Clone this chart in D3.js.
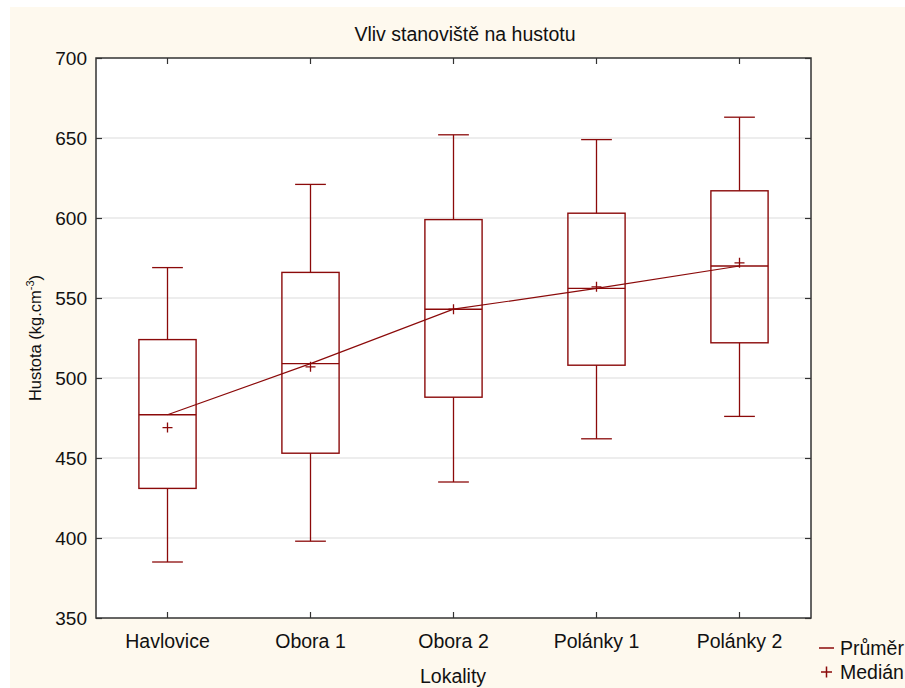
<!DOCTYPE html>
<html><head><meta charset="utf-8">
<script src="https://cdn.jsdelivr.net/npm/d3@7"></script>
<style>
body{margin:0;background:#fff;}
svg{display:block;}
</style></head>
<body>
<svg id="chart" width="905" height="688"></svg>
<script>
const categories = ["Havlovice", "Obora 1", "Obora 2", "Polánky 1", "Polánky 2"];
const whiskerLow  = [385, 398, 435, 462, 476];
const boxLow      = [431, 453, 488, 508, 522];
const meanValues  = [477, 509, 543, 556, 570];
const boxHigh     = [524, 566, 599, 603, 617];
const whiskerHigh = [569, 621, 652, 649, 663];
const medianValues= [469, 507, 543, 557, 572];
const yTicks = [350, 400, 450, 500, 550, 600, 650, 700];

const svg = d3.select("#chart");
const W = 905, H = 688;
const m = {left: 96, top: 58, right: 811, bottom: 618};
const red = "#8b0a0a";
const narrow = "'Liberation Sans Narrow', 'Arial Narrow', 'Liberation Sans', Arial, sans-serif";
const sans = "'Liberation Sans', Arial, sans-serif";

svg.append("rect").attr("x",10).attr("y",7).attr("width",W-10).attr("height",H-7).attr("fill","#fef9ee");

const x = d3.scaleBand().domain(categories).range([m.left, m.right]);
const y = d3.scaleLinear().domain([350, 700]).range([m.bottom, m.top]);

svg.append("rect").attr("x",m.left).attr("y",m.top).attr("width",m.right-m.left).attr("height",m.bottom-m.top).attr("fill","#fff");

// gridlines
svg.append("g").selectAll("line").data(yTicks.filter(t=>t>350 && t<700)).join("line")
  .attr("x1",m.left).attr("x2",m.right).attr("y1",d=>y(d)).attr("y2",d=>y(d))
  .attr("stroke","#dcdcdc").attr("stroke-width",1.2);

// axes
const yAxisL = d3.axisLeft(y).tickValues(yTicks).tickSize(-6).tickPadding(9);
const gL = svg.append("g").attr("transform",`translate(${m.left},0)`).call(yAxisL);
const yAxisR = d3.axisRight(y).tickValues(yTicks).tickSize(-6).tickFormat("");
const gR = svg.append("g").attr("transform",`translate(${m.right},0)`).call(yAxisR);
const xAxisB = d3.axisBottom(x).tickSize(-6).tickPadding(16);
const gB = svg.append("g").attr("transform",`translate(0,${m.bottom})`).call(xAxisB);
const xAxisT = d3.axisTop(x).tickSize(-6).tickFormat("");
const gT = svg.append("g").attr("transform",`translate(0,${m.top})`).call(xAxisT);
[gL,gR,gB,gT].forEach(g=>{
  g.select(".domain").remove();
  g.selectAll(".tick line").attr("stroke","#333").attr("stroke-width",1.2);
});
gL.selectAll(".tick text").attr("font-family",sans).attr("font-size",19).attr("fill","#111");
gB.selectAll(".tick text").attr("font-family",narrow).attr("font-size",19.5).attr("fill","#111");

// frame
svg.append("rect").attr("x",m.left).attr("y",m.top).attr("width",m.right-m.left).attr("height",m.bottom-m.top)
  .attr("fill","none").attr("stroke","#333").attr("stroke-width",1.5);

const bw = x.bandwidth()*0.4, cw = x.bandwidth()*0.215;
const data = categories.map((c,i)=>({c, wl:whiskerLow[i], bl:boxLow[i], mean:meanValues[i], bh:boxHigh[i], wh:whiskerHigh[i], med:medianValues[i]}));
const cx = d=>x(d.c)+x.bandwidth()/2;
const g = svg.append("g").attr("stroke",red).attr("fill","none");
const gb = g.selectAll("g").data(data).join("g");
gb.append("line").attr("x1",cx).attr("x2",cx).attr("y1",d=>y(d.wh)).attr("y2",d=>y(d.bh)).attr("stroke-width",1.3);
gb.append("line").attr("x1",cx).attr("x2",cx).attr("y1",d=>y(d.bl)).attr("y2",d=>y(d.wl)).attr("stroke-width",1.3);
gb.append("line").attr("x1",d=>cx(d)-cw/2).attr("x2",d=>cx(d)+cw/2).attr("y1",d=>y(d.wh)).attr("y2",d=>y(d.wh)).attr("stroke-width",1.3);
gb.append("line").attr("x1",d=>cx(d)-cw/2).attr("x2",d=>cx(d)+cw/2).attr("y1",d=>y(d.wl)).attr("y2",d=>y(d.wl)).attr("stroke-width",1.3);
gb.append("rect").attr("x",d=>cx(d)-bw/2).attr("width",bw).attr("y",d=>y(d.bh)).attr("height",d=>y(d.bl)-y(d.bh)).attr("stroke-width",1.4);
gb.append("line").attr("x1",d=>cx(d)-bw/2).attr("x2",d=>cx(d)+bw/2).attr("y1",d=>y(d.mean)).attr("y2",d=>y(d.mean)).attr("stroke-width",1.4);

// mean connecting line
g.append("path").attr("d", d3.line().x(cx).y(d=>y(d.mean))(data)).attr("stroke-width",1.2);

// median plus markers
const ps = 5;
gb.append("path").attr("d",d=>`M${cx(d)-ps},${y(d.med)}H${cx(d)+ps}M${cx(d)},${y(d.med)-ps}V${y(d.med)+ps}`).attr("stroke-width",1.3);

// titles
svg.append("text").attr("x",465).attr("y",41).attr("text-anchor","middle").attr("font-family",narrow).attr("font-size",19.5).attr("fill","#111").text("Vliv stanoviště na hustotu");
svg.append("text").attr("x",453).attr("y",683).attr("text-anchor","middle").attr("font-family",narrow).attr("font-size",19.5).attr("fill","#111").text("Lokality");
const yt = svg.append("text").attr("transform","translate(41,338) rotate(-90)").attr("text-anchor","middle").attr("font-family",sans).attr("font-size",16.5).attr("fill","#111");
yt.append("tspan").text("Hustota (kg.cm");
yt.append("tspan").attr("font-size",11).attr("dy",-7).text("-3");
yt.append("tspan").attr("dy",7).text(")");

// legend
const lg = svg.append("g").attr("font-family",sans).attr("font-size",19.5).attr("fill","#111");
lg.append("line").attr("x1",819).attr("x2",834).attr("y1",648).attr("y2",648).attr("stroke",red).attr("stroke-width",1.5);
lg.append("text").attr("x",840).attr("y",655).text("Průměr");
lg.append("path").attr("d","M821,672H832M826.5,666.5V677.5").attr("stroke",red).attr("stroke-width",1.5);
lg.append("text").attr("x",840).attr("y",679).text("Medián");
</script>
</body></html>
